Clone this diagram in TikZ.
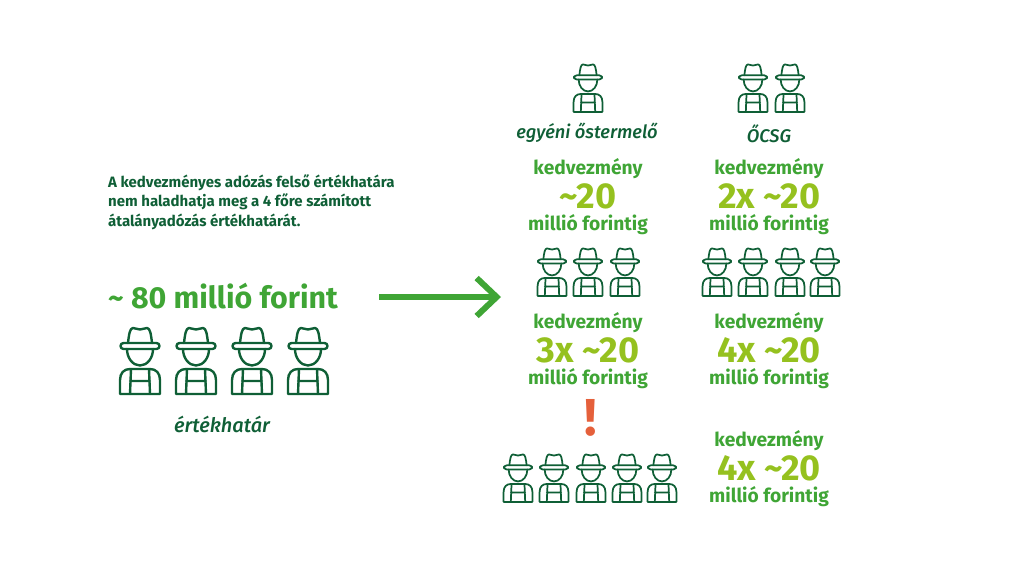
\documentclass[tikz,border=0pt]{standalone}
\usepackage{fontspec}
\setmainfont{Fira Sans}
\newfontfamily\kozepes{Fira Sans Medium}
\usepackage{tikz}
\usetikzlibrary{arrows.meta}
\definecolor{sotetzold}{HTML}{0F5F36}
\definecolor{kozepzold}{HTML}{3FA535}
\definecolor{vilagoszold}{HTML}{95C11F}
\definecolor{piros}{HTML}{E5603B}
\tikzset{
  cimke/.style={font=\fontsize{19.2}{22}\selectfont\bfseries, text=kozepzold},
  szam/.style={font=\fontsize{36}{38}\selectfont\bfseries, text=vilagoszold},
  nev/.style={font=\fontsize{18.3}{22}\selectfont\kozepes\itshape, text=sotetzold},
  pics/gazda/.style={code={
    \begin{scope}[scale=#1, draw=sotetzold, line width=#1*2.4pt, line join=round, line cap=round]
    % kalap
    \draw (-12,17) .. controls (-11,8) and (-10,2) .. (-7,2) .. controls (-4,2) and (-3,3.5) .. (0,3.5)
      .. controls (3,3.5) and (4,2) .. (7,2) .. controls (10,2) and (11,8) .. (12,17);
    \draw[rounded corners=3] (-19.5,17) rectangle (19.5,23);
    % fej
    \draw (-13,23) arc[start angle=180, end angle=0, x radius=13, y radius=16.5];
    % test
    \draw (-20,68) -- (-20,54) .. controls (-20,47) and (-16,43) .. (-10,43) -- (10,43)
      .. controls (16,43) and (20,47) .. (20,54) -- (20,68) -- cycle;
    \draw (-9,43) -- (-10,68) (9,43) -- (10,68) (-10,55) -- (10,55);
    \end{scope}
  }}
}
\begin{document}
\begin{tikzpicture}[x=1pt,y=-1pt]
\useasboundingbox (0,0) rectangle (1024,576);

% bal oldal
\node[anchor=west, inner sep=0pt, align=left, text=sotetzold, font=\fontsize{15}{19.6}\selectfont\bfseries] (szoveg) at (108,202)
  {A kedvezményes adózás felső értékhatára\\nem haladhatja meg a 4 főre számított\\átalányadózás értékhatárát.};
\node[anchor=west, inner sep=0pt, text=kozepzold, font=\fontsize{30.4}{32}\selectfont\bfseries] (osszeg) at (108,296) {\textasciitilde{} 80 millió forint};
\foreach \x in {140,196,252,308} \pic at (\x,326) {gazda=1};
\node[nev, font=\fontsize{20}{22}\selectfont\kozepes\itshape] (ertekhatar) at (222,424) {értékhatár};

% nyil
\coordinate (nyilkezd) at (379,297);
\coordinate (nyilveg) at (501,297);
\draw[-{Straight Barb[length=20pt,width=38pt]}, line width=6pt, draw=kozepzold] (nyilkezd) -- (nyilveg);

% gazdak
\foreach \x in {588} \pic at (\x,63) {gazda=0.72};
\foreach \x in {753,790} \pic at (\x,63) {gazda=0.72};
\foreach \x in {552,588,625} \pic at (\x,247) {gazda=0.72};
\foreach \x in {717,753,790,825} \pic at (\x,247) {gazda=0.72};
\foreach \x in {518,554,591,627,662} \pic at (\x,453) {gazda=0.72};

\node[nev] (egyeni) at (587,133) {egyéni őstermelő};
\node[nev] (ocsg) at (769,134) {ŐCSG};

% kedvezmenyek
\foreach \n/\x/\y/\szov in {a/588/169/\textasciitilde20, b/769/169/2x \textasciitilde20, c/588/323/3x \textasciitilde20, d/769/323/4x \textasciitilde20, e/769/441/4x \textasciitilde20}{
  \node[cimke] (kedv\n) at (\x,\y) {kedvezmény};
  \node[szam] (szam\n) at (\x,\y+27) {\szov};
  \node[cimke] (millio\n) at (\x,\y+56) {millió forintig};
}

\node[text=piros, font=\fontsize{52}{54}\selectfont\bfseries] (felkialt) at (591,418) {!};
\end{tikzpicture}
\end{document}
